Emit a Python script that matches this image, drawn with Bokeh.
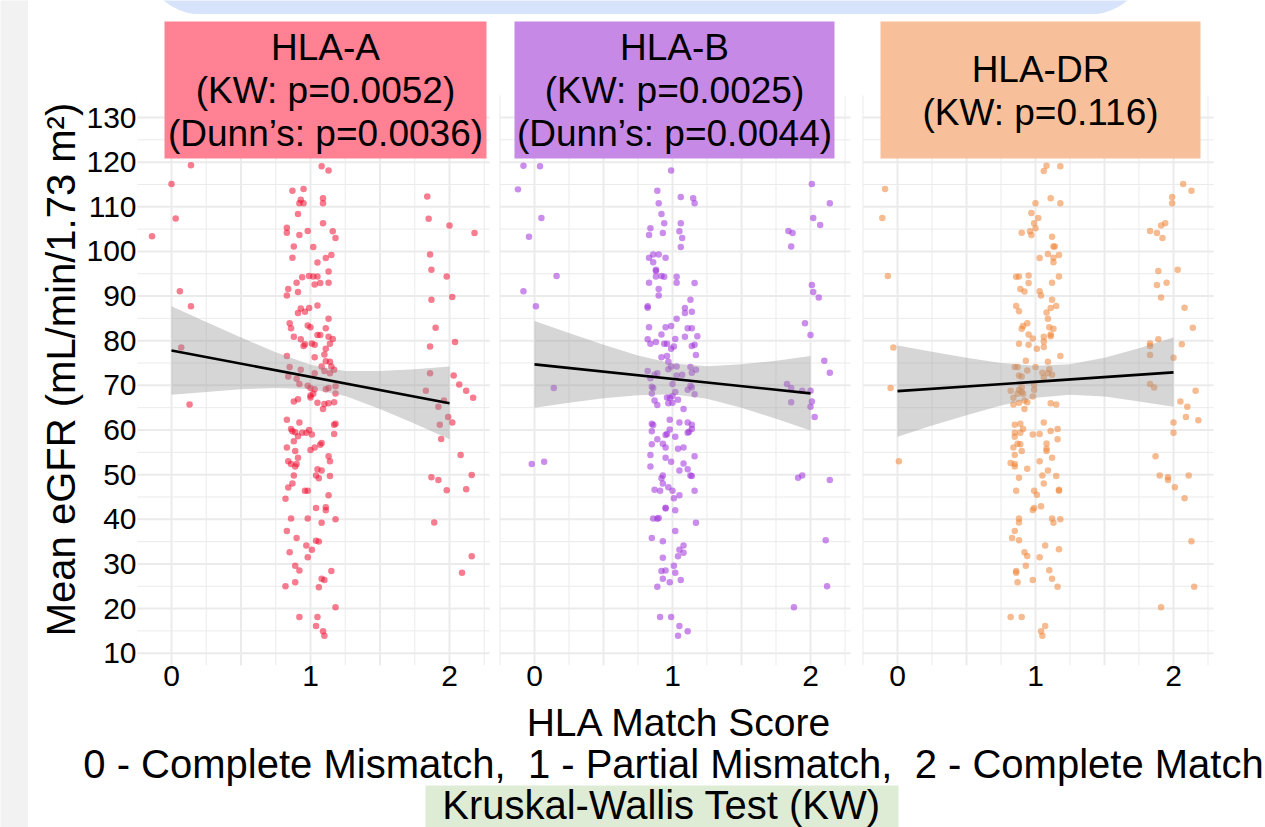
from math import pi
from bokeh.plotting import figure
from bokeh.layouts import row, column
from bokeh.models import Range1d, FixedTicker, BoxAnnotation
from bokeh.core.properties import value
from bokeh.embed import file_html
from bokeh.resources import INLINE

FONT = "Liberation Sans"

# ---------------- data ----------------
x_ticks = [0, 1, 2]
y_ticks = [10, 20, 30, 40, 50, 60, 70, 80, 90, 100, 110, 120, 130]

panel_titles = [
    ["HLA-A", "(KW: p=0.0052)", "(Dunn\u2019s: p=0.0036)"],
    ["HLA-B", "(KW: p=0.0025)", "(Dunn\u2019s: p=0.0044)"],
    ["HLA-DR", "(KW: p=0.116)"],
]
x_title = "HLA Match Score"
x_subtitle = "0 - Complete Mismatch,\u00a0 1 - Partial Mismatch,\u00a0 2 - Complete Match"
y_title = "Mean eGFR (mL/min/1.73 m\u00b2)"
footer = "Kruskal-Wallis Test (KW)"

# jittered match score, mean eGFR
hla_a_points = [
    (0.00, 115.1), (0.14, 119.3), (-0.14, 103.4), (0.03, 107.4), (0.06, 91.1), (0.14, 87.7), (0.07, 78.5), (0.13, 65.7),
    (0.87, 113.6), (0.95, 114.0), (1.08, 119.1), (1.13, 118.1), (1.09, 111.9), (0.93, 111.6),
    (0.92, 110.8), (0.95, 110.8), (1.09, 110.8), (0.91, 108.4), (1.09, 106.3), (0.83, 105.3), (0.83, 104.2), (0.98, 104.6),
    (0.92, 103.7), (1.16, 104.5), (1.18, 103.0), (0.88, 101.1), (1.02, 101.0), (0.87, 98.6), (1.11, 98.5), (1.15, 99.2),
    (1.05, 97.5), (1.13, 95.5), (0.99, 94.5), (1.02, 94.4), (1.05, 94.4), (0.94, 94.2), (0.90, 93.0), (1.03, 92.6),
    (1.07, 92.9), (1.13, 93.0), (0.84, 91.6), (0.91, 90.9), (0.83, 90.1), (1.05, 87.9), (0.93, 87.2), (0.99, 87.3),
    (0.96, 86.5), (0.91, 86.2), (1.13, 84.9), (0.85, 83.9), (0.86, 82.8), (0.98, 83.4), (1.00, 83.0), (1.11, 82.8),
    (1.05, 81.3), (1.07, 81.3), (0.88, 80.9), (0.93, 80.3), (1.13, 80.9), (1.16, 80.4), (1.01, 79.4), (0.96, 79.2),
    (1.03, 79.1), (0.95, 78.8), (1.14, 79.3), (1.11, 78.2), (0.83, 76.6), (1.10, 76.9), (1.03, 76.3), (1.11, 75.4),
    (1.14, 75.3), (0.85, 74.1), (1.08, 74.2), (1.15, 74.2), (0.93, 73.5), (1.17, 73.5), (1.10, 73.2), (1.03, 72.7),
    (1.14, 72.7), (0.84, 72.0), (0.90, 71.5), (0.92, 70.3), (0.98, 69.9), (1.18, 69.8), (1.00, 69.4), (1.13, 69.4),
    (1.11, 69.1), (1.03, 69.1), (1.02, 68.1), (1.18, 68.2), (1.00, 67.7), (1.00, 67.3), (0.91, 66.9), (0.88, 66.4),
    (1.05, 66.1), (1.10, 65.8), (1.13, 66.0), (1.17, 66.2), (1.09, 64.7), (0.83, 62.3), (0.86, 60.2), (0.87, 59.7),
    (0.92, 61.7), (0.89, 59.5), (0.94, 59.4), (0.97, 59.4), (0.99, 60.0), (1.01, 59.0), (1.17, 61.2), (1.18, 61.4),
    (1.17, 59.1), (0.91, 58.6), (0.88, 57.5), (1.08, 57.1), (1.07, 56.7), (0.83, 56.1), (1.03, 56.1), (1.00, 55.5),
    (0.89, 55.3), (1.13, 54.1), (0.91, 53.8), (0.84, 53.0), (0.86, 52.4), (0.90, 52.4), (0.89, 51.8), (1.14, 53.0),
    (1.05, 51.2), (1.08, 50.9), (1.04, 49.8), (1.06, 49.2), (0.88, 49.8), (1.14, 49.7), (0.87, 48.0), (0.84, 47.1),
    (0.96, 46.4), (0.98, 46.4), (1.13, 45.4), (0.82, 44.6), (1.04, 42.5), (1.11, 42.7), (1.11, 42.0), (0.86, 40.2),
    (0.98, 40.2), (1.18, 40.0), (1.08, 39.2), (0.83, 37.4), (0.90, 35.8), (1.04, 35.2), (1.06, 35.0), (0.97, 34.1),
    (1.01, 33.2), (0.85, 32.6), (0.98, 31.5), (0.89, 29.6), (0.92, 28.5), (1.15, 28.4), (1.08, 26.7), (1.10, 26.4),
    (0.89, 25.9), (0.82, 25.0), (1.06, 24.8), (1.18, 20.3), (0.92, 18.1), (1.05, 18.1), (1.04, 16.1), (1.09, 14.9),
    (1.10, 13.9),
    (1.84, 112.3), (1.85, 107.3), (2.00, 105.8), (2.18, 104.1), (1.86, 99.3), (1.87, 95.9), (1.98, 94.4), (1.87, 89.2),
    (2.02, 89.8), (1.90, 82.9), (1.86, 78.7), (2.04, 79.7), (1.86, 72.7), (2.03, 72.2), (2.07, 70.2), (1.83, 68.8),
    (2.12, 68.8), (2.17, 67.2), (1.96, 66.6), (1.92, 65.2), (1.99, 62.9), (2.02, 61.7), (1.93, 61.2), (1.94, 58.0),
    (2.08, 54.4), (1.87, 49.4), (1.92, 48.8), (2.16, 49.9), (1.98, 46.5), (2.12, 46.7), (1.89, 39.3), (2.16, 31.7),
    (2.09, 28.0),
]

hla_b_points = [
    (-0.08, 119.2), (0.04, 119.1), (-0.12, 113.9), (-0.04, 103.3), (0.05, 107.5), (0.16, 94.5), (-0.08, 91.1), (0.01, 87.7),
    (0.14, 69.4), (-0.02, 52.4), (0.07, 52.9),
    (0.99, 118.1), (0.89, 113.6), (1.06, 112.2), (1.15, 111.9),
    (0.90, 110.8), (1.16, 110.8), (0.92, 108.4), (0.94, 106.3), (1.06, 106.3), (0.84, 105.2), (0.83, 103.7), (0.93, 104.1),
    (1.05, 104.5), (1.07, 103.0), (1.06, 101.0), (0.86, 99.3), (0.90, 99.3), (0.83, 98.6), (0.95, 98.6), (0.86, 97.6),
    (0.88, 95.9), (0.88, 95.6), (0.88, 94.4), (0.92, 94.5), (0.94, 94.3), (1.03, 94.3), (0.83, 93.0), (1.03, 93.0),
    (1.16, 92.9), (0.90, 91.6), (0.90, 90.1), (1.13, 89.2), (0.82, 87.7), (0.82, 87.4), (1.09, 87.3), (1.14, 86.5),
    (1.09, 86.2), (1.03, 84.9), (0.83, 83.0), (0.95, 83.0), (0.99, 83.3), (1.11, 82.8), (1.14, 82.8), (0.92, 81.4),
    (1.09, 80.9), (1.18, 81.0), (1.02, 80.4), (0.82, 80.3), (0.88, 79.7), (0.84, 79.3), (0.94, 79.3), (0.96, 79.3),
    (1.16, 79.1), (1.14, 78.8), (1.01, 78.7), (0.99, 78.2), (1.17, 76.8), (0.96, 76.6), (0.92, 76.3), (0.97, 75.3),
    (0.99, 74.2), (1.03, 74.2), (1.13, 74.1), (1.17, 73.5), (0.97, 73.6), (0.82, 73.2), (1.14, 72.8), (1.03, 72.2),
    (1.07, 72.4), (0.89, 72.7), (0.87, 72.4), (0.84, 71.6), (1.00, 70.3), (1.13, 69.9), (0.85, 69.7), (1.14, 69.5),
    (1.11, 69.0), (0.86, 69.4), (0.85, 68.2), (1.02, 68.5), (1.16, 68.0), (1.00, 67.6), (0.98, 67.2), (0.96, 67.3),
    (1.04, 66.8), (0.87, 66.6), (0.97, 66.0), (1.00, 66.1), (0.89, 65.6), (1.08, 64.7), (0.98, 62.3), (1.05, 61.7),
    (0.85, 61.4), (1.11, 61.7), (1.14, 61.2), (0.86, 61.1), (0.85, 59.7), (0.98, 60.1), (1.14, 60.2), (1.11, 59.4),
    (1.12, 59.6), (0.96, 59.1), (0.95, 58.9), (1.02, 58.5), (0.89, 57.9), (0.85, 56.8), (0.93, 56.9), (0.95, 56.1),
    (1.04, 55.8), (1.08, 56.1),
    (0.84, 54.4), (0.95, 53.8), (0.99, 52.9), (1.16, 54.1), (0.84, 51.8), (1.08, 52.5), (1.11, 51.2), (1.05, 50.9),
    (0.93, 49.8), (0.92, 49.2), (1.13, 49.8), (1.14, 49.7), (0.93, 48.0), (0.97, 47.2), (0.87, 46.6), (0.91, 46.4),
    (1.00, 46.4), (1.16, 46.4), (1.05, 45.4), (1.01, 44.7), (0.95, 42.6), (0.95, 42.4), (1.02, 42.0), (0.86, 40.2),
    (0.89, 40.1), (0.90, 40.3), (1.17, 39.2), (1.02, 37.4), (0.85, 35.8), (0.93, 35.1), (1.08, 34.1), (1.05, 33.2),
    (1.08, 32.5), (0.93, 31.4), (1.04, 31.7), (1.01, 29.6), (0.92, 28.4), (0.95, 28.5), (1.02, 28.0), (0.93, 26.7),
    (1.06, 26.4), (0.98, 25.9), (0.89, 24.9), (0.91, 18.1), (0.99, 18.1), (1.05, 16.1), (1.11, 14.9), (1.04, 13.9),
    (2.01, 115.1), (2.14, 110.8), (2.02, 107.5), (2.07, 105.9), (1.84, 104.6), (1.87, 104.1), (1.86, 101.1), (2.01, 92.5),
    (2.02, 90.9), (2.06, 89.7), (1.96, 83.9), (2.00, 81.3), (2.10, 75.5), (2.14, 72.8), (1.83, 70.3), (1.86, 69.4),
    (1.94, 68.8), (2.00, 68.8), (1.86, 66.2), (2.01, 66.4), (2.00, 65.2), (2.03, 62.9), (1.91, 49.3), (1.94, 49.8),
    (2.14, 48.8), (2.11, 35.3), (2.12, 25.0), (1.88, 20.3),
]

hla_dr_points = [
    (-0.09, 114.0), (-0.11, 107.5), (-0.07, 94.5), (-0.03, 78.5), (-0.05, 69.4), (0.01, 53.0),
    (1.08, 119.2), (1.06, 118.0), (1.18, 119.1), (1.11, 111.9),
    (1.00, 110.8), (1.18, 110.8), (0.97, 108.6), (1.02, 107.5), (0.99, 106.3), (1.00, 105.2), (0.90, 104.2), (0.96, 104.5),
    (0.97, 103.7), (1.12, 103.3), (1.13, 101.1), (1.14, 101.1), (1.09, 99.4), (1.17, 99.2), (1.13, 98.6), (1.03, 98.5),
    (1.13, 97.6), (0.86, 94.3), (0.88, 94.4), (0.95, 94.6), (1.17, 94.4), (0.95, 92.9), (1.12, 93.0), (0.89, 91.6),
    (0.92, 91.0), (1.03, 91.1), (1.04, 90.1), (1.12, 89.2), (0.86, 87.8), (1.15, 87.8), (1.11, 87.3), (0.88, 86.6),
    (1.08, 86.3), (1.09, 84.9), (0.94, 83.9), (0.91, 83.3), (0.90, 82.7), (1.10, 83.0), (1.13, 82.7), (0.95, 81.4),
    (1.11, 81.4), (1.11, 81.0), (0.98, 80.5), (1.06, 80.9), (1.06, 79.8), (0.88, 79.3), (0.95, 79.1), (1.06, 78.6),
    (1.01, 78.2), (1.18, 76.6), (0.93, 75.5), (1.09, 75.3), (1.00, 74.1), (0.85, 74.1), (0.87, 74.1), (1.10, 73.6),
    (0.94, 73.3), (1.05, 72.8), (1.12, 72.4), (1.09, 72.7), (0.88, 72.2), (0.90, 72.0), (1.06, 71.7), (0.99, 70.2),
    (0.90, 69.6), (0.88, 69.0), (0.82, 68.8), (0.90, 68.5), (0.99, 69.0), (0.87, 68.1), (0.91, 68.1), (0.84, 67.2),
    (0.98, 67.5), (0.94, 66.2), (0.92, 66.6), (0.88, 66.1), (0.84, 65.7), (1.11, 66.0), (1.15, 65.7), (0.92, 64.7),
    (1.06, 61.7), (0.85, 61.2), (0.89, 61.4), (0.91, 60.2), (1.11, 59.8), (1.16, 60.2), (0.85, 59.4), (0.89, 59.4),
    (0.98, 59.0), (1.03, 59.1), (0.85, 58.5), (1.16, 57.9), (0.87, 56.9), (0.89, 56.8), (1.08, 57.0), (0.84, 56.1),
    (1.08, 55.8),
    (0.90, 55.3), (1.08, 55.3), (0.85, 54.4), (1.12, 53.8), (0.82, 52.6), (0.85, 52.4), (0.85, 51.8), (1.03, 53.0),
    (0.94, 51.3), (1.09, 50.9), (1.05, 49.8), (1.15, 49.7), (0.88, 49.3), (1.06, 48.0), (0.86, 46.4), (0.99, 46.4),
    (1.01, 45.5), (1.17, 46.6), (1.17, 46.4), (1.04, 42.9), (0.99, 42.5), (0.98, 42.1), (0.88, 40.2), (1.12, 40.2),
    (1.18, 40.0), (0.88, 39.3), (1.13, 39.2), (0.85, 37.4), (0.83, 35.8), (0.88, 35.3), (1.07, 34.1), (1.17, 33.3),
    (0.92, 32.6), (0.94, 31.8), (1.03, 31.5), (0.93, 29.6), (0.86, 28.4), (0.86, 28.0), (1.10, 28.6), (1.12, 26.7),
    (0.98, 26.4), (0.87, 25.9), (1.16, 24.9), (0.82, 18.1), (0.90, 18.1), (1.07, 16.1), (1.04, 14.9), (1.05, 13.9),
    (2.07, 115.1), (2.13, 113.6), (1.99, 112.2), (1.99, 110.8), (1.91, 105.8), (1.94, 106.3), (1.83, 104.6), (1.88, 104.1),
    (1.92, 103.0), (1.89, 95.6), (2.03, 95.9), (1.88, 92.5), (1.95, 93.0), (1.91, 89.7), (2.08, 87.4), (2.14, 82.9),
    (1.83, 79.4), (1.89, 80.3), (2.06, 79.2), (1.83, 78.8), (1.83, 76.8), (2.00, 76.2), (1.83, 70.3), (1.86, 69.5),
    (2.16, 68.8), (2.05, 66.4), (2.10, 65.2), (2.00, 61.7), (2.09, 62.9), (2.18, 62.2), (2.00, 59.4), (1.87, 54.1),
    (1.90, 49.8), (1.96, 49.4), (1.96, 48.8), (2.11, 49.8), (2.01, 47.2), (2.08, 44.7), (2.13, 35.1), (2.15, 24.9),
    (1.91, 20.3),
]

# linear fit and 95% confidence band
fit_x = [0, 2]
hla_a_fit = [77.8, 66.0]
hla_b_fit = [74.7, 68.2]
hla_dr_fit = [68.7, 72.9]

band_x = [0, 0.25, 0.5, 0.75, 1.0, 1.25, 1.5, 1.75, 2.0]
hla_a_lo = [67.9, 68.5, 69.1, 69.4, 69.2, 67.6, 64.7, 61.4, 57.9]
hla_a_hi = [87.7, 84.2, 80.7, 77.4, 74.6, 73.2, 73.2, 73.6, 74.2]
hla_b_lo = [65.0, 66.1, 67.1, 67.8, 68.0, 67.0, 65.0, 62.5, 59.9]
hla_b_hi = [84.4, 81.7, 79.1, 76.7, 74.9, 74.3, 74.7, 75.5, 76.6]
hla_dr_lo = [58.5, 61.0, 63.3, 65.5, 67.2, 67.9, 67.5, 66.4, 65.2]
hla_dr_hi = [78.9, 77.5, 76.2, 75.0, 74.4, 74.7, 76.2, 78.3, 80.7]

# ---------------- styling / layout ----------------
point_colors = ["#ee1133", "#9f2fdb", "#ef8435"]
strip_colors = ["#ff8193", "#c689e6", "#f7c09a"]
GRID = "#ebebeb"

PX_Y = 4.4642            # px per eGFR unit
BANNER_H = 14            # top banner strip (page y 0..14)
BOTTOM_B = 35
ROW_H = 665 - BANNER_H + BOTTOM_B   # panel frames from page y 14 to 665
TOTAL_H = 827


def y_of(page_y):
    return 130 - (page_y - 117) / PX_Y


Y_LO = y_of(665)
Y_HI = y_of(BANNER_H)
PANEL_TOP = y_of(95)
PANEL_X = (-0.25, 2.29)

# (fig width, frame-left page x, page x of score 0, px per score unit,
#  strip page x range, strip text center page x)
specs = [
    (356, 137, 171, 139, (164, 486), 325),
    (363, 493, 534, 138, (514, 834), 674),
    (409, 856, 897, 138, (880, 1200), 1040),
]
points_all = [hla_a_points, hla_b_points, hla_dr_points]
fits = [hla_a_fit, hla_b_fit, hla_dr_fit]
bands = [(hla_a_lo, hla_a_hi), (hla_b_lo, hla_b_hi), (hla_dr_lo, hla_dr_hi)]

y_major = y_ticks
y_minor = [v + 5 for v in y_ticks[:-1]]
x_major = [0, 0.5, 1, 1.5, 2]
x_minor = [-0.25, 0.25, 0.75, 1.25, 1.75, 2.25]

panels = []
for i, (w, fl, x0, ppx, (sl, sr), tc) in enumerate(specs):
    xs = (fl - x0) / ppx
    xe = xs + w / ppx
    p = figure(width=w, height=ROW_H, x_range=Range1d(xs, xe), y_range=Range1d(Y_LO, Y_HI),
               toolbar_location=None, output_backend="svg", y_axis_location=None,
               min_border=0, min_border_bottom=BOTTOM_B,
               outline_line_color=None, background_fill_color="white", border_fill_color="white")
    p.xgrid.visible = False
    p.ygrid.visible = False

    # grid
    p.segment(x0=[PANEL_X[0]] * len(y_minor), x1=[PANEL_X[1]] * len(y_minor), y0=y_minor, y1=y_minor,
              line_color=GRID, line_width=1)
    p.segment(x0=x_minor, x1=x_minor, y0=[Y_LO] * len(x_minor), y1=[PANEL_TOP] * len(x_minor),
              line_color=GRID, line_width=1)
    p.segment(x0=[PANEL_X[0]] * len(y_major), x1=[PANEL_X[1]] * len(y_major), y0=y_major, y1=y_major,
              line_color=GRID, line_width=2)
    p.segment(x0=x_major, x1=x_major, y0=[Y_LO] * len(x_major), y1=[PANEL_TOP] * len(x_major),
              line_color=GRID, line_width=2)

    pts = points_all[i]
    p.scatter(x=[a for a, b in pts], y=[b for a, b in pts], size=6.5,
              fill_color=point_colors[i], fill_alpha=0.55, line_color=None)

    lo, hi = bands[i]
    p.varea(x=band_x, y1=lo, y2=hi, fill_color="#999999", fill_alpha=0.4)
    p.line(x=fit_x, y=fits[i], line_color="black", line_width=2.6)

    # facet strip
    p.quad(left=[(sl - x0) / ppx], right=[(sr - x0) / ppx], bottom=[y_of(158)], top=[y_of(21)],
           fill_color=strip_colors[i], line_color=None)
    lines = panel_titles[i]
    if len(lines) == 3:
        mids = [y_of(47), y_of(90), y_of(133)]
    else:
        mids = [y_of(69), y_of(112)]
    p.text(x=[(tc - x0) / ppx] * len(lines), y=mids, text=lines,
           text_font=value(FONT), text_font_size=value("37px"), text_color="black",
           text_align="center", text_baseline="middle")

    # x axis
    p.xaxis.ticker = FixedTicker(ticks=x_ticks)
    p.xaxis.major_label_text_font = FONT
    p.xaxis.major_label_text_font_size = "30px"
    p.xaxis.major_label_text_color = "black"
    p.xaxis.axis_line_color = None
    p.xaxis.major_tick_line_color = None
    p.xaxis.minor_tick_line_color = None
    p.xaxis.major_tick_out = 0
    p.xaxis.major_label_standoff = 0
    panels.append(p)

# y-axis labels and title (same vertical scale as the panels)
fy = figure(width=109, height=ROW_H, x_range=Range1d(28, 137), y_range=Range1d(Y_LO, Y_HI),
            toolbar_location=None, output_backend="svg", min_border=0, min_border_bottom=BOTTOM_B,
            x_axis_location=None, y_axis_location=None, outline_line_color=None)
fy.xgrid.visible = False
fy.ygrid.visible = False
fy.text(x=[136] * len(y_ticks), y=y_ticks, text=[str(t) for t in y_ticks],
        text_font=value(FONT), text_font_size=value("30px"), text_color="black",
        text_align="right", text_baseline="middle")
fy.text(x=[60], y=[y_of(369)], text=[y_title], angle=pi / 2, text_font=value(FONT),
        text_font_size=value("40px"), text_color="black", text_align="center", text_baseline="middle")

# top banner (mostly above the page)
fban = figure(width=1237, height=BANNER_H, x_range=Range1d(28, 1265), y_range=Range1d(-BANNER_H, 0),
              toolbar_location=None, output_backend="svg", min_border=0,
              x_axis_location=None, y_axis_location=None, outline_line_color=None)
fban.xgrid.visible = False
fban.ygrid.visible = False
fban.add_layout(BoxAnnotation(left=141.5, right=1148.5, bottom=-BANNER_H, top=100,
                              fill_color="#d7e3fb", fill_alpha=1.0, line_color=None,
                              border_radius=(0, 0, 60, 60)))
fban.scatter(x=[0], y=[0], size=1, alpha=0)

# bottom titles
BOT_H = TOTAL_H - BANNER_H - ROW_H
fb = figure(width=1237, height=BOT_H, x_range=Range1d(28, 1265), y_range=Range1d(-TOTAL_H, -(TOTAL_H - BOT_H)),
            toolbar_location=None, output_backend="svg", min_border=0,
            x_axis_location=None, y_axis_location=None, outline_line_color=None)
fb.xgrid.visible = False
fb.ygrid.visible = False
fb.quad(left=[425], right=[898], bottom=[-850], top=[-785], fill_color="#deecd6", line_color=None)
fb.text(x=[679], y=[-722], text=[x_title],
        text_font=value(FONT), text_font_size=value("39px"), text_color="black",
        text_align="center", text_baseline="middle")
fb.text(x=[673, 661], y=[-763, -804], text=[x_subtitle, footer],
        text_font=value(FONT), text_font_size=value("40px"), text_color="black",
        text_align="center", text_baseline="middle")

# left grey strip
fg = figure(width=28, height=TOTAL_H, toolbar_location=None, output_backend="svg", min_border=0,
            x_axis_location=None, y_axis_location=None, outline_line_color=None,
            background_fill_color="#f2f2f2", border_fill_color="#f2f2f2",
            x_range=Range1d(0, 1), y_range=Range1d(0, 1))
fg.xgrid.visible = False
fg.ygrid.visible = False
fg.scatter(x=[-5], y=[-5], size=1, alpha=0)

layout = row(fg, column(fban, row(fy, *panels), fb))

open("out.html", "w").write(file_html(layout, INLINE))
